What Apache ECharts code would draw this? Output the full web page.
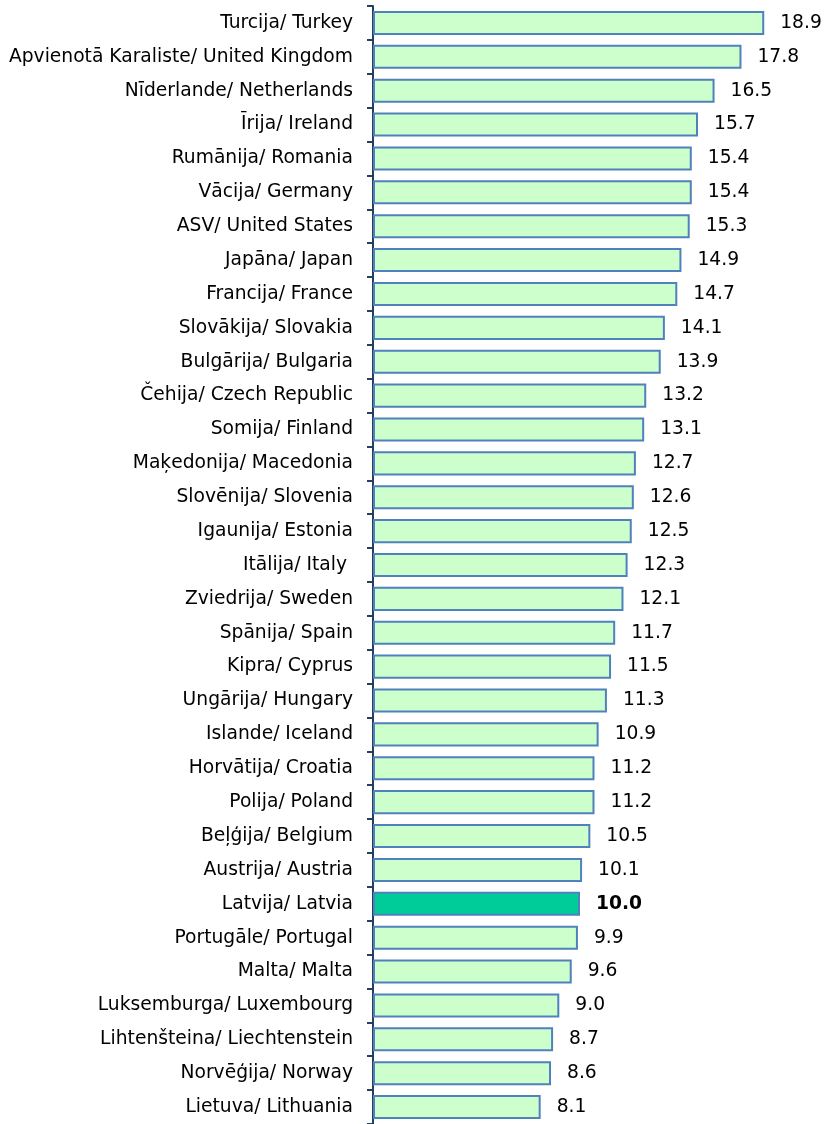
<!DOCTYPE html>
<html>
<head>
<meta charset="utf-8">
<script src="https://cdn.jsdelivr.net/npm/echarts@6/dist/echarts.min.js"></script>
<style>
html,body{margin:0;padding:0;background:#fff;}
#chart{width:825px;height:1124px;}
</style>
</head>
<body>
<div id="chart"></div>
<script>
const categories = [
  "Turcija/ Turkey",
  "Apvienotā Karaliste/ United Kingdom",
  "Nīderlande/ Netherlands",
  "Īrija/ Ireland",
  "Rumānija/ Romania",
  "Vācija/ Germany",
  "ASV/ United States",
  "Japāna/ Japan",
  "Francija/ France",
  "Slovākija/ Slovakia",
  "Bulgārija/ Bulgaria",
  "Čehija/ Czech Republic",
  "Somija/ Finland",
  "Maķedonija/ Macedonia",
  "Slovēnija/ Slovenia",
  "Igaunija/ Estonia",
  "Itālija/ Italy ",
  "Zviedrija/ Sweden",
  "Spānija/ Spain",
  "Kipra/ Cyprus",
  "Ungārija/ Hungary",
  "Islande/ Iceland",
  "Horvātija/ Croatia",
  "Polija/ Poland",
  "Beļģija/ Belgium",
  "Austrija/ Austria",
  "Latvija/ Latvia",
  "Portugāle/ Portugal",
  "Malta/ Malta",
  "Luksemburga/ Luxembourg",
  "Lihtenšteina/ Liechtenstein",
  "Norvēģija/ Norway",
  "Lietuva/ Lithuania"
];
// bar lengths as drawn in the picture
const values = [18.9, 17.8, 16.5, 15.7, 15.4, 15.4, 15.3, 14.9, 14.7, 14.1, 13.9, 13.2, 13.1, 12.7, 12.6, 12.5, 12.3, 12.1, 11.7, 11.5, 11.3, 10.9, 10.7, 10.7, 10.5, 10.1, 10.0, 9.9, 9.6, 9.0, 8.7, 8.6, 8.1];
// value labels as printed in the picture
const valueLabels = ["18.9", "17.8", "16.5", "15.7", "15.4", "15.4", "15.3", "14.9", "14.7", "14.1", "13.9", "13.2", "13.1", "12.7", "12.6", "12.5", "12.3", "12.1", "11.7", "11.5", "11.3", "10.9", "11.2", "11.2", "10.5", "10.1", "10.0", "9.9", "9.6", "9.0", "8.7", "8.6", "8.1"];
const highlight = "Latvija/ Latvia";

const FONT = "DejaVu Sans, Verdana, sans-serif";
const chart = echarts.init(document.getElementById('chart'), null, {renderer: 'canvas'});

const data = values.map((v, i) => {
  const isHi = categories[i] === highlight;
  return {
    value: v,
    itemStyle: {color: isHi ? '#00CC99' : '#CCFFCC'},
    label: isHi ? {fontWeight: 'bold'} : {}
  };
});

chart.setOption({
  animation: false,
  backgroundColor: '#ffffff',
  grid: {left: 373, right: 38, top: 6, height: 1120, containLabel: false},
  xAxis: {
    type: 'value', min: 0, max: 20, show: false
  },
  yAxis: {
    type: 'category',
    inverse: true,
    data: categories,
    axisLine: {show: true, lineStyle: {color: '#243F60', width: 2}},
    axisTick: {show: true, length: 6, lineStyle: {color: '#243F60', width: 2}},
    axisLabel: {color: '#000', fontFamily: FONT, fontSize: 18.7, margin: 20},
    splitLine: {show: false}
  },
  series: [{
    type: 'bar',
    data: data,
    barCategoryGap: '29%',
    itemStyle: {borderColor: '#4F81BD', borderWidth: 2},
    label: {
      show: true,
      position: 'right',
      distance: 16,
      color: '#000',
      fontFamily: FONT,
      fontSize: 18.7,
      formatter: p => valueLabels[p.dataIndex]
    }
  }]
});
</script>
</body>
</html>
